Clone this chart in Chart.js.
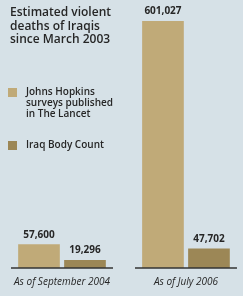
<!DOCTYPE html>
<html>
<head>
<meta charset="utf-8">
<script src="https://cdn.jsdelivr.net/npm/chart.js@4.4.1/dist/chart.umd.min.js"></script>
<style>
  html, body { margin: 0; padding: 0; background: #d6e1e7; }
  canvas { display: block; }
</style>
</head>
<body>
<canvas id="chart" width="243" height="296"></canvas>
<script>
const titleLines = ['Estimated violent', 'deaths of Iraqis', 'since March 2003']
const categories = ['As of September 2004', 'As of July 2006']
const lancetLabel = ['Johns Hopkins', 'surveys published', 'in The Lancet']
const lancetValues = [57600, 601027]
const ibcLabel = ['Iraq Body Count']
const ibcValues = [19296, 47702]

const bg = '#d6e1e7'
const lancetColor = '#c0aa78'
const ibcColor = '#9c8756'
const ink = '#262626'
const font = '"Open Sans", "DejaVu Sans", sans-serif'


// title, legend, baselines and value labels
const decor = {
  id: 'decor',
  beforeDraw(chart) {
    const {ctx, width, height} = chart
    ctx.save()
    ctx.fillStyle = bg
    ctx.fillRect(0, 0, width, height)
    ctx.restore()
  },
  afterDatasetsDraw(chart) {
    const {ctx} = chart
    const x = chart.scales.x
    const y = chart.scales.y
    const base = y.getPixelForValue(0)

    ctx.save()
    ctx.strokeStyle = '#333'
    ctx.lineWidth = 1.5
    categories.forEach((c, i) => {
      const cx = x.getPixelForValue(i)
      ctx.beginPath()
      ctx.moveTo(cx - 51, base)
      ctx.lineTo(cx + 51, base)
      ctx.stroke()
    })

    ctx.fillStyle = ink
    ctx.font = 'bold 10px ' + font
    ctx.textAlign = 'center'
    ctx.textBaseline = 'middle'
    chart.data.datasets.forEach((ds, d) => {
      chart.getDatasetMeta(d).data.forEach((bar, i) => {
        ctx.fillText(ds.data[i].y.toLocaleString('en-US'), bar.x, bar.y - 9.5)
      })
    })

    ctx.textAlign = 'left'
    ctx.font = '600 12px ' + font
    titleLines.forEach((t, i) => ctx.fillText(t, 10, 13 + i * 13.5))

    ctx.font = '600 10px ' + font
    const items = [[lancetLabel, lancetColor, 88], [ibcLabel, ibcColor, 141]]
    items.forEach(([lines, color, top]) => {
      ctx.fillStyle = color
      ctx.fillRect(8, top, 9, 9)
      ctx.fillStyle = ink
      lines.forEach((t, i) => ctx.fillText(t, 26, top + 4.5 + i * 11))
    })
    ctx.restore()
  }
}


new Chart(document.getElementById('chart'), {
  type: 'bar',
  data: {
    datasets: [
      {
        label: lancetLabel.join(' '),
        backgroundColor: lancetColor,
        data: lancetValues.map((v, i) => ({x: i, y: v})),
      },
      {
        label: ibcLabel.join(' '),
        backgroundColor: ibcColor,
        data: ibcValues.map((v, i) => ({x: i, y: v})),
      },
    ]
  },
  options: {
    responsive: false,
    animation: false,
    categoryPercentage: 0.742,
    barPercentage: 0.906,
    layout: {padding: {top: 0, bottom: 0, left: 0, right: 0}},
    plugins: {
      legend: {display: false},
      tooltip: {enabled: false},
    },
    scales: {
      x: {
        type: 'linear',
        offset: false,
        min: -0.5,
        max: 1.46,
        afterBuildTicks: axis => {
          axis.ticks = categories.map((c, i) => ({value: i}))
        },
        ticks: {
          callback: v => categories[v],
          autoSkip: false,
          maxRotation: 0,
          padding: 8,
          color: ink,
          font: {family: font, size: 10, style: 'italic'},
        },
        grid: {display: false, drawTicks: false, offset: false},
        border: {display: false},
      },
      y: {
        display: false,
        min: 0,
        max: 652000,
      }
    }
  },
  plugins: [decor],
})
</script>
</body>
</html>
